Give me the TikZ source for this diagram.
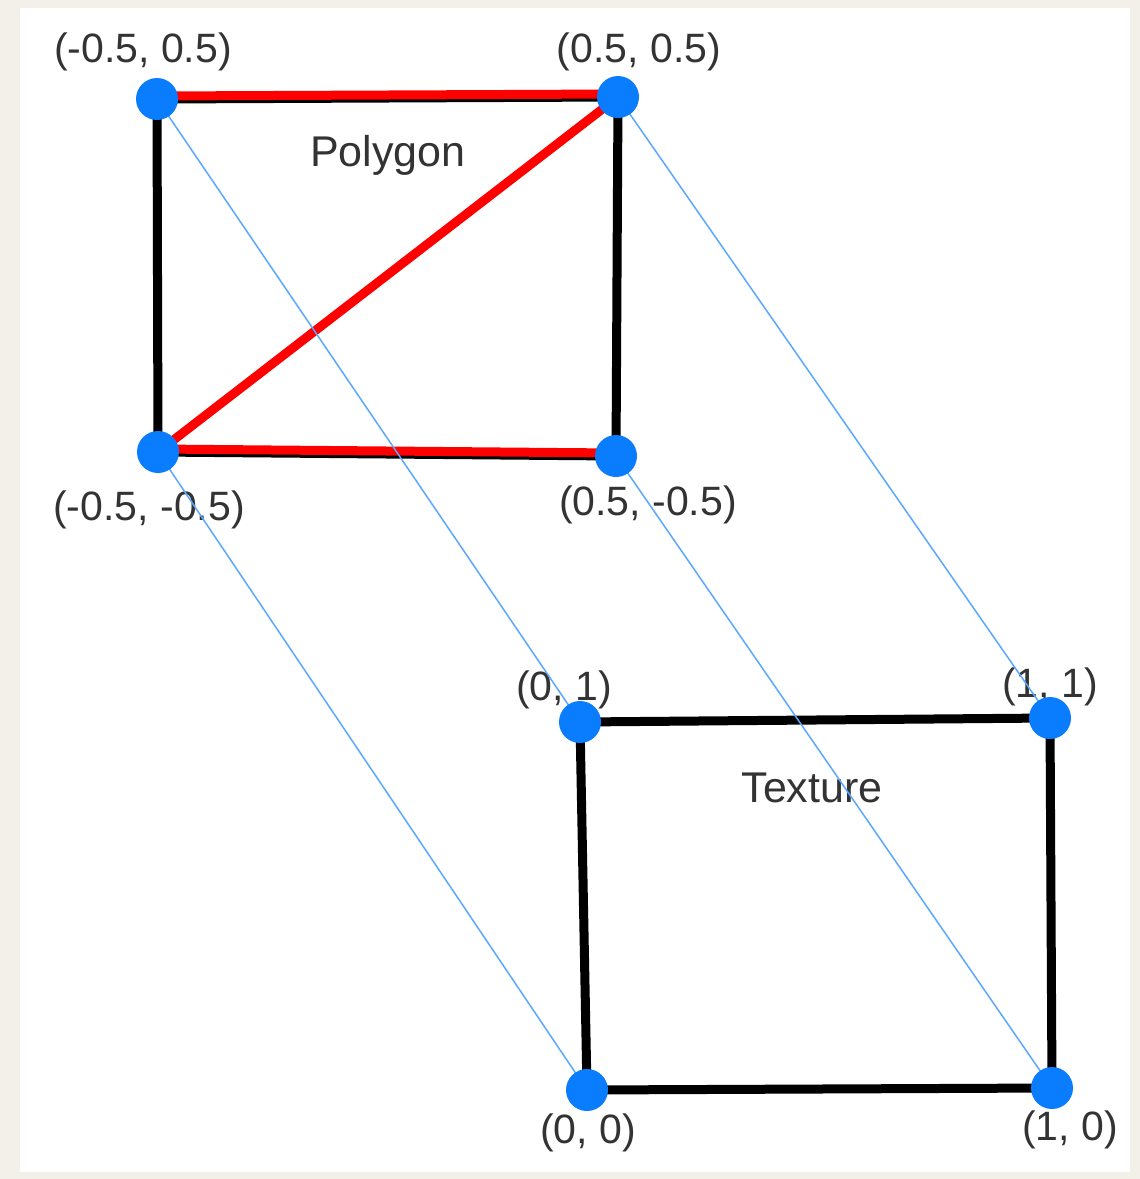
\documentclass[tikz,border=0pt]{standalone}
\usepackage{fontspec}
\setmainfont{Liberation Sans}
\usepackage{xcolor}
\usetikzlibrary{calc}
\definecolor{paper}{HTML}{F3F0EA}
\definecolor{dotblue}{HTML}{0A7DFF}
\definecolor{mapblue}{HTML}{5AA8FF}
\definecolor{labelgray}{HTML}{333333}

\begin{document}
\begin{tikzpicture}[x=1pt, y=-1pt,
    edge/.style={line width=9pt, black},
    tri/.style={line width=9pt, red},
    map/.style={line width=1.5pt, mapblue},
    vtx/.style={circle, fill=dotblue, inner sep=0pt, minimum size=42pt},
    coordlbl/.style={font=\fontsize{41}{44}\selectfont, text=labelgray},
    titlelbl/.style={font=\fontsize{43}{46}\selectfont, text=labelgray},
  ]
    % page
    \fill[paper] (0,0) rectangle (1140,1179);
    \useasboundingbox (0,0) rectangle (1140,1179);
    \fill[white] (20,8) rectangle (1130,1172);

    % polygon corners
    \coordinate (ptl) at (157,99);
    \coordinate (ptr) at (618,97);
    \coordinate (pbl) at (158,452);
    \coordinate (pbr) at (616,456);

    % texture corners
    \coordinate (ttl) at (580,722);
    \coordinate (ttr) at (1050,718);
    \coordinate (tbl) at (587,1090);
    \coordinate (tbr) at (1052,1088);

    % Polygon
    \draw[edge] (ptl) -- (ptr) -- (pbr) -- (pbl) -- cycle;
    \draw[tri] ($(ptl)+(0,-3)$) -- ($(ptr)+(0,-3)$);
    \draw[tri] ($(pbl)+(0,-3)$) -- ($(pbr)+(0,-3)$);
    \draw[tri] (pbl) -- (ptr);
    \node[titlelbl] (polytitle) at (388,155) {Polygon};

    % Texture
    \draw[edge] (ttl) -- (ttr) -- (tbr) -- (tbl) -- cycle;
    \node[titlelbl] (textitle) at (812,788) {Texture};

    % corner labels
    \node[coordlbl] (lptl) at (143,52) {(-0.5, 0.5)};
    \node[coordlbl] (lptr) at (639,52) {(0.5, 0.5)};
    \node[coordlbl] (lpbl) at (149,510) {(-0.5, -0.5)};
    \node[coordlbl] (lpbr) at (648,505) {(0.5, -0.5)};
    \node[coordlbl] (lttl) at (564,690) {(0, 1)};
    \node[coordlbl] (lttr) at (1050,687) {(1, 1)};
    \node[coordlbl] (ltbl) at (588,1133) {(0, 0)};
    \node[coordlbl] (ltbr) at (1070,1130) {(1, 0)};

    % mapping lines
    \draw[map] (ptl) -- (ttl);
    \draw[map] (ptr) -- (ttr);
    \draw[map] (pbl) -- (tbl);
    \draw[map] (pbr) -- (tbr);

    % vertices
    \foreach \v in {ptl,ptr,pbl,pbr,ttl,ttr,tbl,tbr}{
      \node[vtx] (d\v) at (\v) {};
    }
\end{tikzpicture}
\end{document}
